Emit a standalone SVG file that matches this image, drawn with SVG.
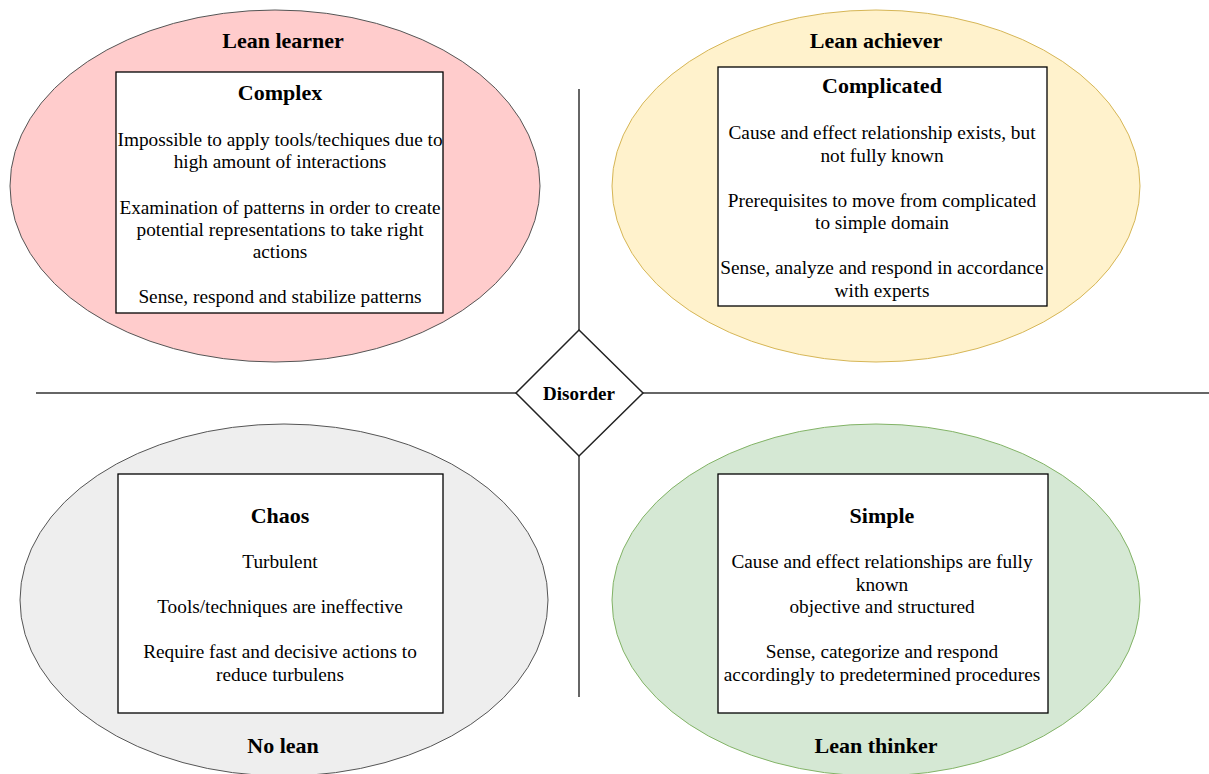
<svg xmlns="http://www.w3.org/2000/svg" width="1209" height="774" viewBox="0 0 1209 774">
<style>
.t{font-family:"Liberation Serif","Times New Roman",serif;fill:#000;text-anchor:middle}
.h{font-size:22px;font-weight:bold}
.b{font-size:19.3px}
.box{fill:#fff;stroke:#000;stroke-width:1.3}
.ln{stroke:#333;stroke-width:1.5;fill:none}
</style>
<rect width="1209" height="774" fill="#fff"/>
<g id="connectors">
<line class="ln" x1="579" y1="89" x2="579" y2="330"/>
<line class="ln" x1="579" y1="456" x2="579" y2="697"/>
<line class="ln" x1="36" y1="393" x2="516" y2="393"/>
<line class="ln" x1="643" y1="393" x2="1209" y2="393"/>
</g>
<g id="lean-learner">
<ellipse cx="275" cy="186" rx="265" ry="176" fill="#ffcccc" stroke="#555" stroke-width="1"/>
<text class="t h" x="283" y="48">Lean learner</text>
<rect class="box" x="116" y="72" width="327" height="241"/>
<text class="t h" x="280" y="100">Complex</text>
<text class="t b"><tspan x="280" y="146">Impossible to apply tools/techiques due to</tspan><tspan x="280" y="168">high amount of interactions</tspan><tspan x="280" y="214">Examination of patterns in order to create</tspan><tspan x="280" y="236">potential representations to take right</tspan><tspan x="280" y="258">actions</tspan><tspan x="280" y="303">Sense, respond and stabilize patterns</tspan></text>
</g>
<g id="lean-achiever">
<ellipse cx="876" cy="186" rx="264" ry="176" fill="#fff2cc" stroke="#d6b656" stroke-width="1"/>
<text class="t h" x="876" y="48">Lean achiever</text>
<rect class="box" x="718" y="67" width="329" height="239"/>
<text class="t h" x="882" y="93">Complicated</text>
<text class="t b"><tspan x="882" y="139">Cause and effect relationship exists, but</tspan><tspan x="882" y="162">not fully known</tspan><tspan x="882" y="207">Prerequisites to move from complicated</tspan><tspan x="882" y="229">to simple domain</tspan><tspan x="882" y="274">Sense, analyze and respond in accordance</tspan><tspan x="882" y="297">with experts</tspan></text>
</g>
<g id="disorder">
<polygon points="579,330 643,393 579,456 516,393" fill="#fff" stroke="#222" stroke-width="1.5"/>
<text class="t" x="579" y="400" font-size="19" font-weight="bold">Disorder</text>
</g>
<g id="no-lean">
<ellipse cx="284" cy="600" rx="264" ry="176" fill="#eeeeee" stroke="#555" stroke-width="1"/>
<rect class="box" x="118" y="474" width="325" height="239"/>
<text class="t h" x="280" y="523">Chaos</text>
<text class="t b"><tspan x="280" y="568">Turbulent</tspan><tspan x="280" y="613">Tools/techniques are ineffective</tspan><tspan x="280" y="658">Require fast and decisive actions to</tspan><tspan x="280" y="681">reduce turbulens</tspan></text>
<text class="t h" x="283" y="753">No lean</text>
</g>
<g id="lean-thinker">
<ellipse cx="876" cy="600" rx="264" ry="176" fill="#d5e8d4" stroke="#82b366" stroke-width="1"/>
<rect class="box" x="718" y="474" width="330" height="239"/>
<text class="t h" x="882" y="523">Simple</text>
<text class="t b"><tspan x="882" y="568">Cause and effect relationships are fully</tspan><tspan x="882" y="591">known</tspan><tspan x="882" y="613">objective and structured</tspan><tspan x="882" y="658">Sense, categorize and respond</tspan><tspan x="882" y="681">accordingly to predetermined procedures</tspan></text>
<text class="t h" x="876" y="753">Lean thinker</text>
</g>
</svg>
